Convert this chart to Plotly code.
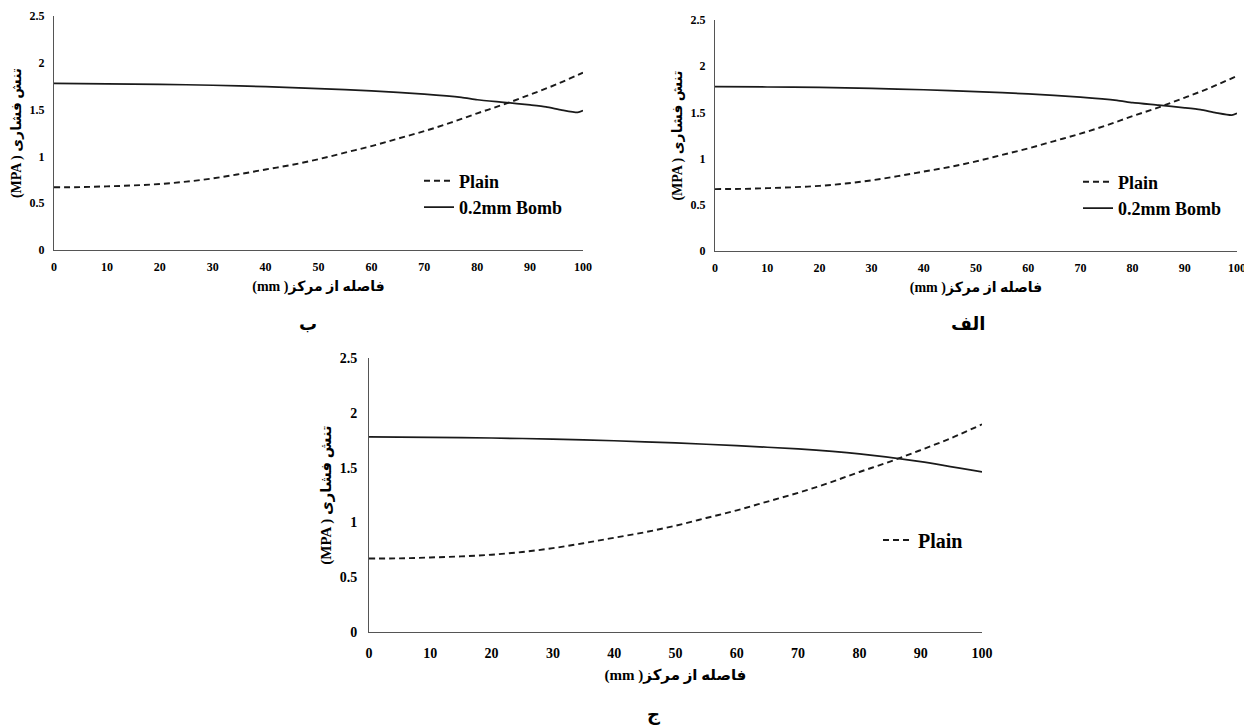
import plotly.graph_objects as go

# ---------------- data ----------------
distance = [0, 5, 10, 15, 20, 25, 30, 35, 40, 45, 50, 55, 60, 65, 70, 75, 80, 85, 90, 95, 100]
plain = [0.67, 0.672, 0.68, 0.69, 0.705, 0.73, 0.765, 0.81, 0.86, 0.91, 0.97, 1.04, 1.11,
         1.19, 1.27, 1.36, 1.46, 1.555, 1.66, 1.77, 1.895]

bomb_x = [0, 10, 20, 30, 40, 50, 60, 70, 77, 80, 85, 90, 93, 96, 99, 100]
bomb_ab = [1.78, 1.775, 1.77, 1.76, 1.745, 1.725, 1.70, 1.665, 1.63, 1.605, 1.578, 1.55,
           1.53, 1.495, 1.47, 1.49]

bomb_c_x = [0, 10, 20, 30, 40, 50, 60, 70, 80, 90, 100]
bomb_c = [1.78, 1.775, 1.77, 1.76, 1.745, 1.725, 1.70, 1.67, 1.625, 1.555, 1.46]

x_ticks = [0, 10, 20, 30, 40, 50, 60, 70, 80, 90, 100]
y_ticks = [0, 0.5, 1, 1.5, 2, 2.5]
y_tick_text = ["0", "0.5", "1", "1.5", "2", "2.5"]

name_plain = "Plain"
name_bomb = "0.2mm Bomb"
x_title = "(mm )فاصله از مرکز"
y_title = "(MPA ) تنش فشاری"
panel_labels = ["ب", "الف", "ج"]

# ---------------- figure ----------------
OFF = 8                      # page body margin
W, H = 1252 - OFF, 728 - OFF
FONT = "Liberation Serif, Times New Roman, DejaVu Sans, serif"
LINE_COL = "#1a1a1a"
DASH = "6px,4px"


def px_x(p):
    return (p - OFF) / W


def px_y(p):
    return 1 - (p - OFF) / H


fig = go.Figure()

panels = [
    ("x", "y", "legend", bomb_x, bomb_ab, True, (54, 583, 16, 250)),
    ("x2", "y2", "legend2", bomb_x, bomb_ab, True, (715, 1237, 20, 251)),
    ("x3", "y3", "legend3", bomb_c_x, bomb_c, False, (369, 982, 358, 632)),
]

for xa, ya, lg, bx, by, show_b, box in panels:
    fig.add_trace(go.Scatter(
        x=distance, y=plain, mode="lines", name=name_plain,
        line=dict(color=LINE_COL, width=1.9, dash=DASH, shape="spline"),
        xaxis=xa, yaxis=ya, legend=lg, legendgroup=lg + "p", showlegend=True,
    ))
    fig.add_trace(go.Scatter(
        x=bx, y=by, mode="lines", name=name_bomb,
        line=dict(color=LINE_COL, width=1.7, shape="spline", smoothing=0.6),
        xaxis=xa, yaxis=ya, legend=lg, legendgroup=lg + "b", showlegend=show_b,
    ))

layout = dict(
    width=W, height=H, autosize=False,
    margin=dict(l=0, r=0, t=0, b=0, autoexpand=False),
    paper_bgcolor="white", plot_bgcolor="white",
    font=dict(family=FONT, color="black"),
    showlegend=True,
)

big = [False, False, True]
for i, (xa, ya, lg, bx, by, show_b, box) in enumerate(panels):
    x0, x1, yt, yb = box
    sfx = "" if i == 0 else str(i + 1)
    tick_size = 14 if big[i] else 12
    title_size = 15 if big[i] else 14
    layout["xaxis" + sfx] = dict(
        domain=[px_x(x0), px_x(x1)], range=[0, 100], anchor="y" + sfx,
        tickvals=x_ticks, ticks="", showgrid=False, zeroline=False,
        showline=True, linecolor="#555555", linewidth=1, automargin=False,
        tickfont=dict(size=tick_size, family=FONT, weight="bold"),
        ticklabelstandoff=8 if big[i] else 6,
        title=dict(text=x_title, font=dict(size=title_size, family=FONT, weight="bold"),
                   standoff=9 if big[i] else 7),
        fixedrange=True,
    )
    layout["yaxis" + sfx] = dict(
        domain=[px_y(yb), px_y(yt)], range=[0, 2.5], anchor="x" + sfx,
        tickvals=y_ticks, ticktext=y_tick_text, ticks="", showgrid=False, zeroline=False,
        showline=True, linecolor="#555555", linewidth=1, automargin=False,
        tickfont=dict(size=tick_size, family=FONT, weight="bold"),
        ticklabelstandoff=8 if big[i] else 6,
        title=dict(text=y_title, font=dict(size=title_size, family=FONT, weight="bold"),
                   standoff=4),
        fixedrange=True,
    )

legend_common = dict(
    bgcolor="rgba(0,0,0,0)", borderwidth=0, xanchor="left", yanchor="middle",
    tracegroupgap=0, itemclick=False, itemdoubleclick=False,
)
layout["legend"] = dict(legend_common, x=px_x(419), y=px_y(194),
                        font=dict(size=18, family=FONT, weight="bold"))
layout["legend2"] = dict(legend_common, x=px_x(1078), y=px_y(195),
                         font=dict(size=18, family=FONT, weight="bold"))
layout["legend3"] = dict(legend_common, x=px_x(878), y=px_y(540),
                         font=dict(size=20, family=FONT, weight="bold"))

annotations = [
    dict(text=panel_labels[0], x=px_x(308), y=px_y(324)),
    dict(text=panel_labels[1], x=px_x(968), y=px_y(324)),
    dict(text=panel_labels[2], x=px_x(653), y=px_y(714)),
]
layout["annotations"] = [
    dict(a, xref="paper", yref="paper", showarrow=False, xanchor="center", yanchor="middle",
         font=dict(size=18, family=FONT, weight="bold", color="black"))
    for a in annotations
]

fig.update_layout(**layout)
fig.write_html("out.html", config={"displayModeBar": False})
